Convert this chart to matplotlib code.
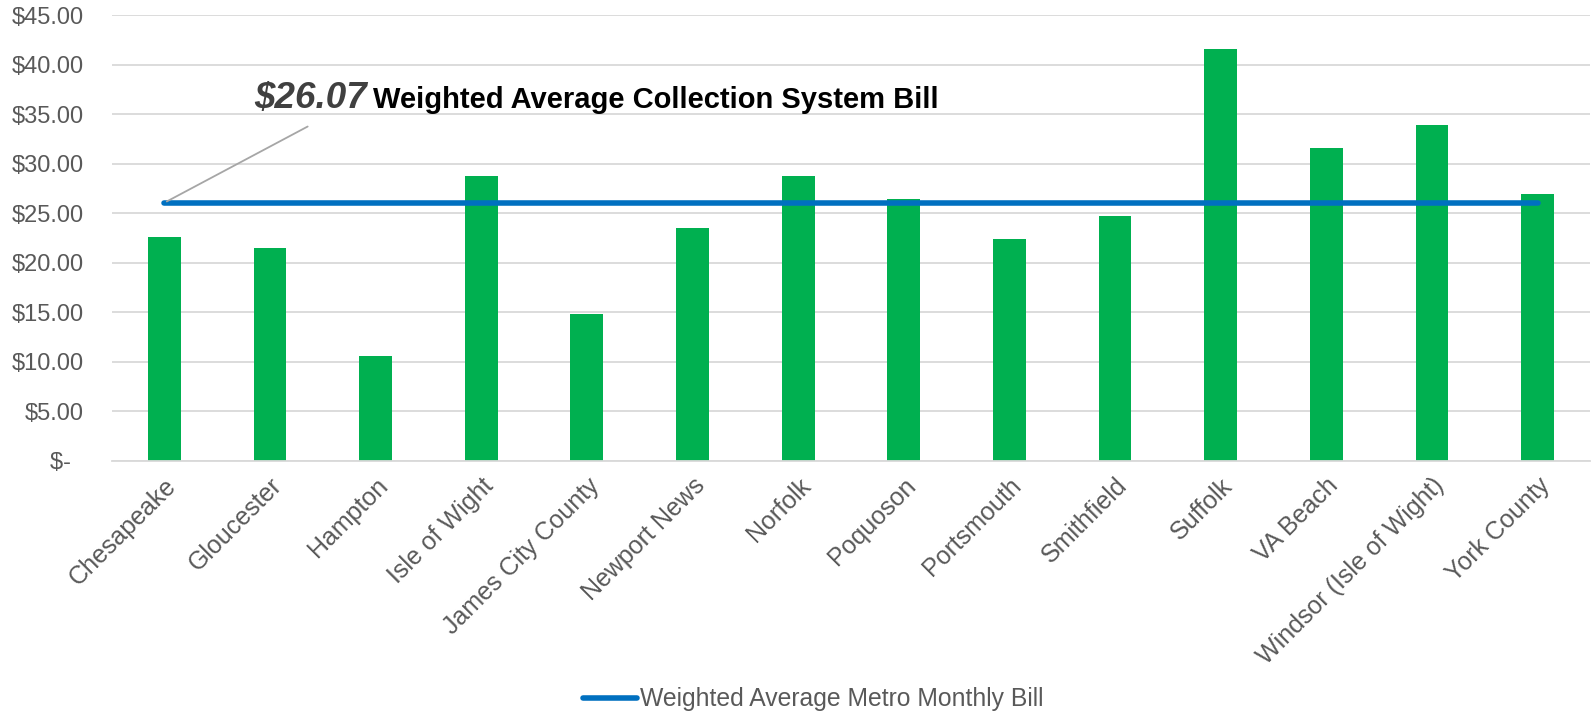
import matplotlib
matplotlib.use("Agg")
from matplotlib import pyplot as plt
from matplotlib.ticker import FuncFormatter
import numpy as np

plt.rcParams['font.family'] = ['Liberation Sans', 'DejaVu Sans']

localities = ['Chesapeake', 'Gloucester', 'Hampton', 'Isle of Wight', 'James City County',
              'Newport News', 'Norfolk', 'Poquoson', 'Portsmouth', 'Smithfield', 'Suffolk',
              'VA Beach', 'Windsor (Isle of Wight)', 'York County']
collection_bill = [22.6, 21.5, 10.55, 28.8, 14.8, 23.5, 28.75, 26.45, 22.4, 24.7, 41.55,
                   31.55, 33.9, 27.0]
metro_average = 26.07
legend_label = 'Weighted Average Metro Monthly Bill'
note_label = 'Weighted Average Collection System Bill'

GREEN = '#00B050'
BLUE = '#0070C0'
GRAY = '#595959'

fig = plt.figure(figsize=(15.91, 7.18), dpi=100)
ax = fig.add_axes([0.0701, 0.358, 0.9295, 0.6207])

x = np.arange(len(localities))
ax.bar(x, collection_bill, width=0.31, color=GREEN, zorder=2)
avg_line, = ax.plot(x, [metro_average] * len(x), color=BLUE, lw=4,
                    solid_capstyle='round', zorder=3, label=legend_label)

ax.set_xlim(-0.5, len(x) - 0.5)
ax.set_ylim(0, 45)
ax.set_yticks(np.arange(0, 46, 5))
ax.yaxis.set_major_formatter(FuncFormatter(lambda v, p: '$-  ' if v == 0 else f'${v:.2f}'))
ax.grid(axis='y', color='#D9D9D9', lw=1.3, zorder=0)
ax.set_axisbelow(True)
for s in ['top', 'right', 'left']:
    ax.spines[s].set_visible(False)
ax.spines['bottom'].set_color('#D9D9D9')
ax.spines['bottom'].set_linewidth(1.3)

ax.set_xticks(x)
ax.set_xticklabels(localities, rotation=45, ha='right', rotation_mode='anchor')
ax.tick_params(axis='both', length=0, labelsize=17, labelcolor=GRAY)
ax.tick_params(axis='x', labelsize=18, pad=9)
ax.tick_params(axis='y', pad=20)

# callout for the average
ax.annotate('', xy=(0, metro_average), xytext=(1.38, 33.9),
            arrowprops=dict(arrowstyle='-', color='#A6A6A6', lw=1.3), zorder=4)
ax.text(0.85, 35.6, f'${metro_average:.2f}', fontsize=26.5, fontweight='bold',
        fontstyle='italic', color='#404040', va='baseline', ha='left')
ax.text(1.975, 35.6, note_label, fontsize=21, fontweight='bold', color='black',
        va='baseline', ha='left')

leg = fig.legend(handles=[avg_line], loc='center', bbox_to_anchor=(813 / 1591, 0.026),
                 frameon=False, fontsize=17.8, handlelength=2.2, handletextpad=0.1)
for t in leg.get_texts():
    t.set_color(GRAY)

fig.savefig('out.png', dpi=100)
